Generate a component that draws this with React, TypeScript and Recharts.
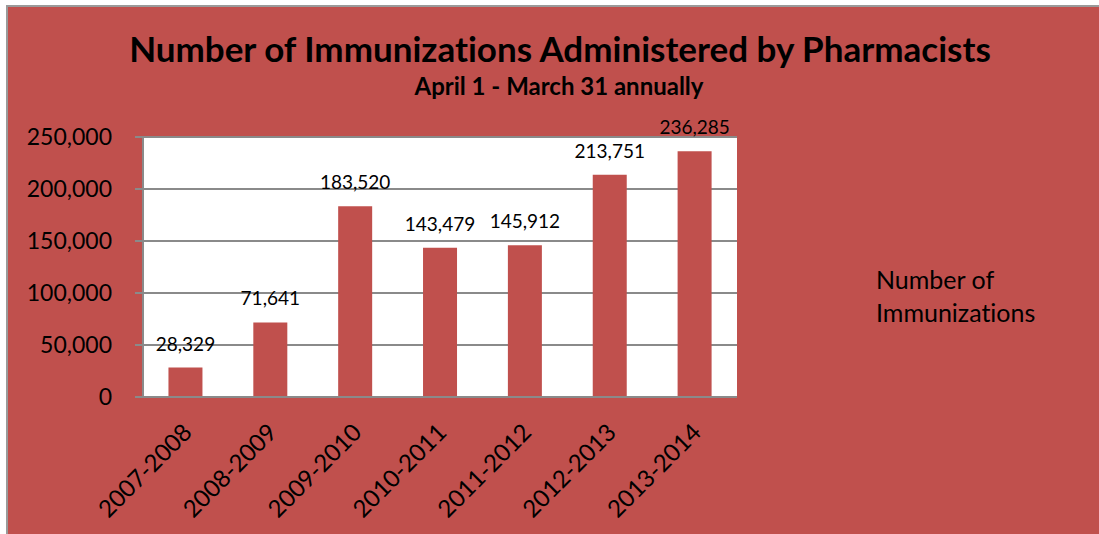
import { BarChart, Bar, XAxis, YAxis, CartesianGrid, LabelList } from "recharts";

const RED = "#C0504D";
const GRID = "#8A8A8A";

const years = [
  "2007-2008",
  "2008-2009",
  "2009-2010",
  "2010-2011",
  "2011-2012",
  "2012-2013",
  "2013-2014",
];
const immunizations = [28329, 71641, 183520, 143479, 145912, 213751, 236285];
const yTicks = [0, 50000, 100000, 150000, 200000, 250000];
const edgeTicks = [0, 1, 2, 3, 4, 5, 6, 7];

const data = years.map((y, i) => ({
  year: y,
  value: immunizations[i],
  edge: i + 0.5,
}));

const FONT = "Lato, 'Open Sans', sans-serif";

const fmt = (v: number) => v.toLocaleString("en-US");

function YearTick({ x, y, payload }: any) {
  return (
    <text
      transform={`translate(${x + 8},${y + 29}) rotate(-45)`}
      textAnchor="end"
      fontSize={24}
      fontFamily={FONT}
      fill="#000"
    >
      {payload.value}
    </text>
  );
}

export default function App() {
  return (
    <div
      style={{
        position: "absolute",
        left: 0,
        top: 0,
        width: 1099,
        height: 534,
        background: "#fff",
        overflow: "hidden",
        fontVariantLigatures: "none",
      }}
    >
      <div
        style={{
          position: "absolute",
          left: 6,
          top: 5,
          width: 1100,
          height: 540,
          background: RED,
          borderLeft: `2px solid #9A9A9A`,
          borderTop: `2px solid #9A9A9A`,
        }}
      >
        <BarChart
          width={1091}
          height={527}
          data={data}
          margin={{ top: 130, right: 362, bottom: 0, left: 0 }}
          barCategoryGap="30%"
        >
          <CartesianGrid
            vertical={false}
            fill="#fff"
            stroke={GRID}
            strokeWidth={2}
          />
          <XAxis
            xAxisId="edges"
            type="number"
            dataKey="edge"
            domain={[0, 7]}
            ticks={edgeTicks}
            height={0}
            axisLine={false}
            tick={false}
            tickLine={{ stroke: GRID, strokeWidth: 2 }}
            tickSize={8}
          />
          <XAxis
            dataKey="year"
            height={137}
            interval={0}
            axisLine={{ stroke: GRID, strokeWidth: 2 }}
            tickLine={false}
            tick={<YearTick />}
          />
          <YAxis
            width={135}
            domain={[0, 250000]}
            ticks={yTicks}
            tickFormatter={fmt}
            axisLine={{ stroke: GRID, strokeWidth: 2 }}
            tickLine={{ stroke: GRID, strokeWidth: 2 }}
            tickSize={8}
            tickMargin={23}
            tick={{ fill: "#000", fontSize: 23, fontFamily: FONT }}
          />
          <Bar dataKey="value" fill={RED} isAnimationActive={false}>
            <LabelList
              dataKey="value"
              position="top"
              offset={17}
              formatter={(v: any) => fmt(Number(v))}
              style={{ fill: "#000", fontSize: 19, fontFamily: FONT }}
            />
          </Bar>
        </BarChart>
      </div>
      <svg
        width={1099}
        height={534}
        style={{ position: "absolute", left: 0, top: 0, pointerEvents: "none" }}
        fontFamily={FONT}
      >
        <text x={560} y={62} textAnchor="middle" fontSize={35} fontWeight={700}>
          Number of Immunizations Administered by Pharmacists
        </text>
        <text x={559} y={95} textAnchor="middle" fontSize={24} fontWeight={700}>
          April 1 - March 31 annually
        </text>
        <text x={876} y={289} fontSize={25}>
          Number of
        </text>
        <text x={876} y={321.5} fontSize={25}>
          Immunizations
        </text>
      </svg>
    </div>
  );
}
